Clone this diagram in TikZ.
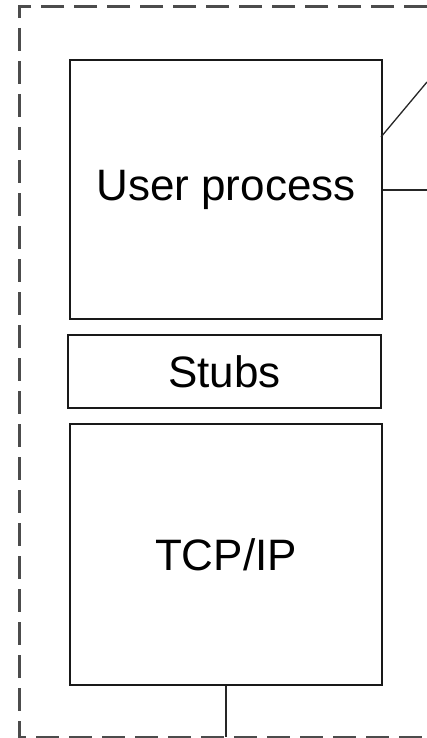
\documentclass[tikz,border=0pt]{standalone}
\usepackage{fontspec}
\setmainfont{Liberation Sans}
\begin{document}
\begin{tikzpicture}[x=1pt,y=-1pt,
  blk/.style={draw=black!90,line width=2pt,inner sep=0pt,font=\fontsize{44}{50}\selectfont},
  conn/.style={draw=black!85,line width=2pt},
  border/.style={draw=black!70,line width=3pt,dash pattern=on 23pt off 10pt}]
\useasboundingbox (0,0) rectangle (427,738);
\draw[border] (427,7) -- (19,7) -- (19,737) -- (427,737);
\node[blk,minimum width=312pt,minimum height=259pt] (user) at (226,189.5) {User process};
\node[blk,minimum width=313pt,minimum height=73pt] (stubs) at (224.5,371.5) {Stubs};
\node[blk,minimum width=312pt,minimum height=261pt] (tcp) at (226,554.5) {TCP/IP};
\coordinate (bot) at (226,737);
\coordinate (diag) at (427,82);
\coordinate (hor) at (427,190);
\coordinate (dstart) at (381,137);
\draw[conn] (tcp.south) -- (bot);
\draw[conn,line width=1.3pt] (dstart) -- (diag);
\draw[conn] (user.east |- hor) -- (hor);
\end{tikzpicture}
\end{document}
